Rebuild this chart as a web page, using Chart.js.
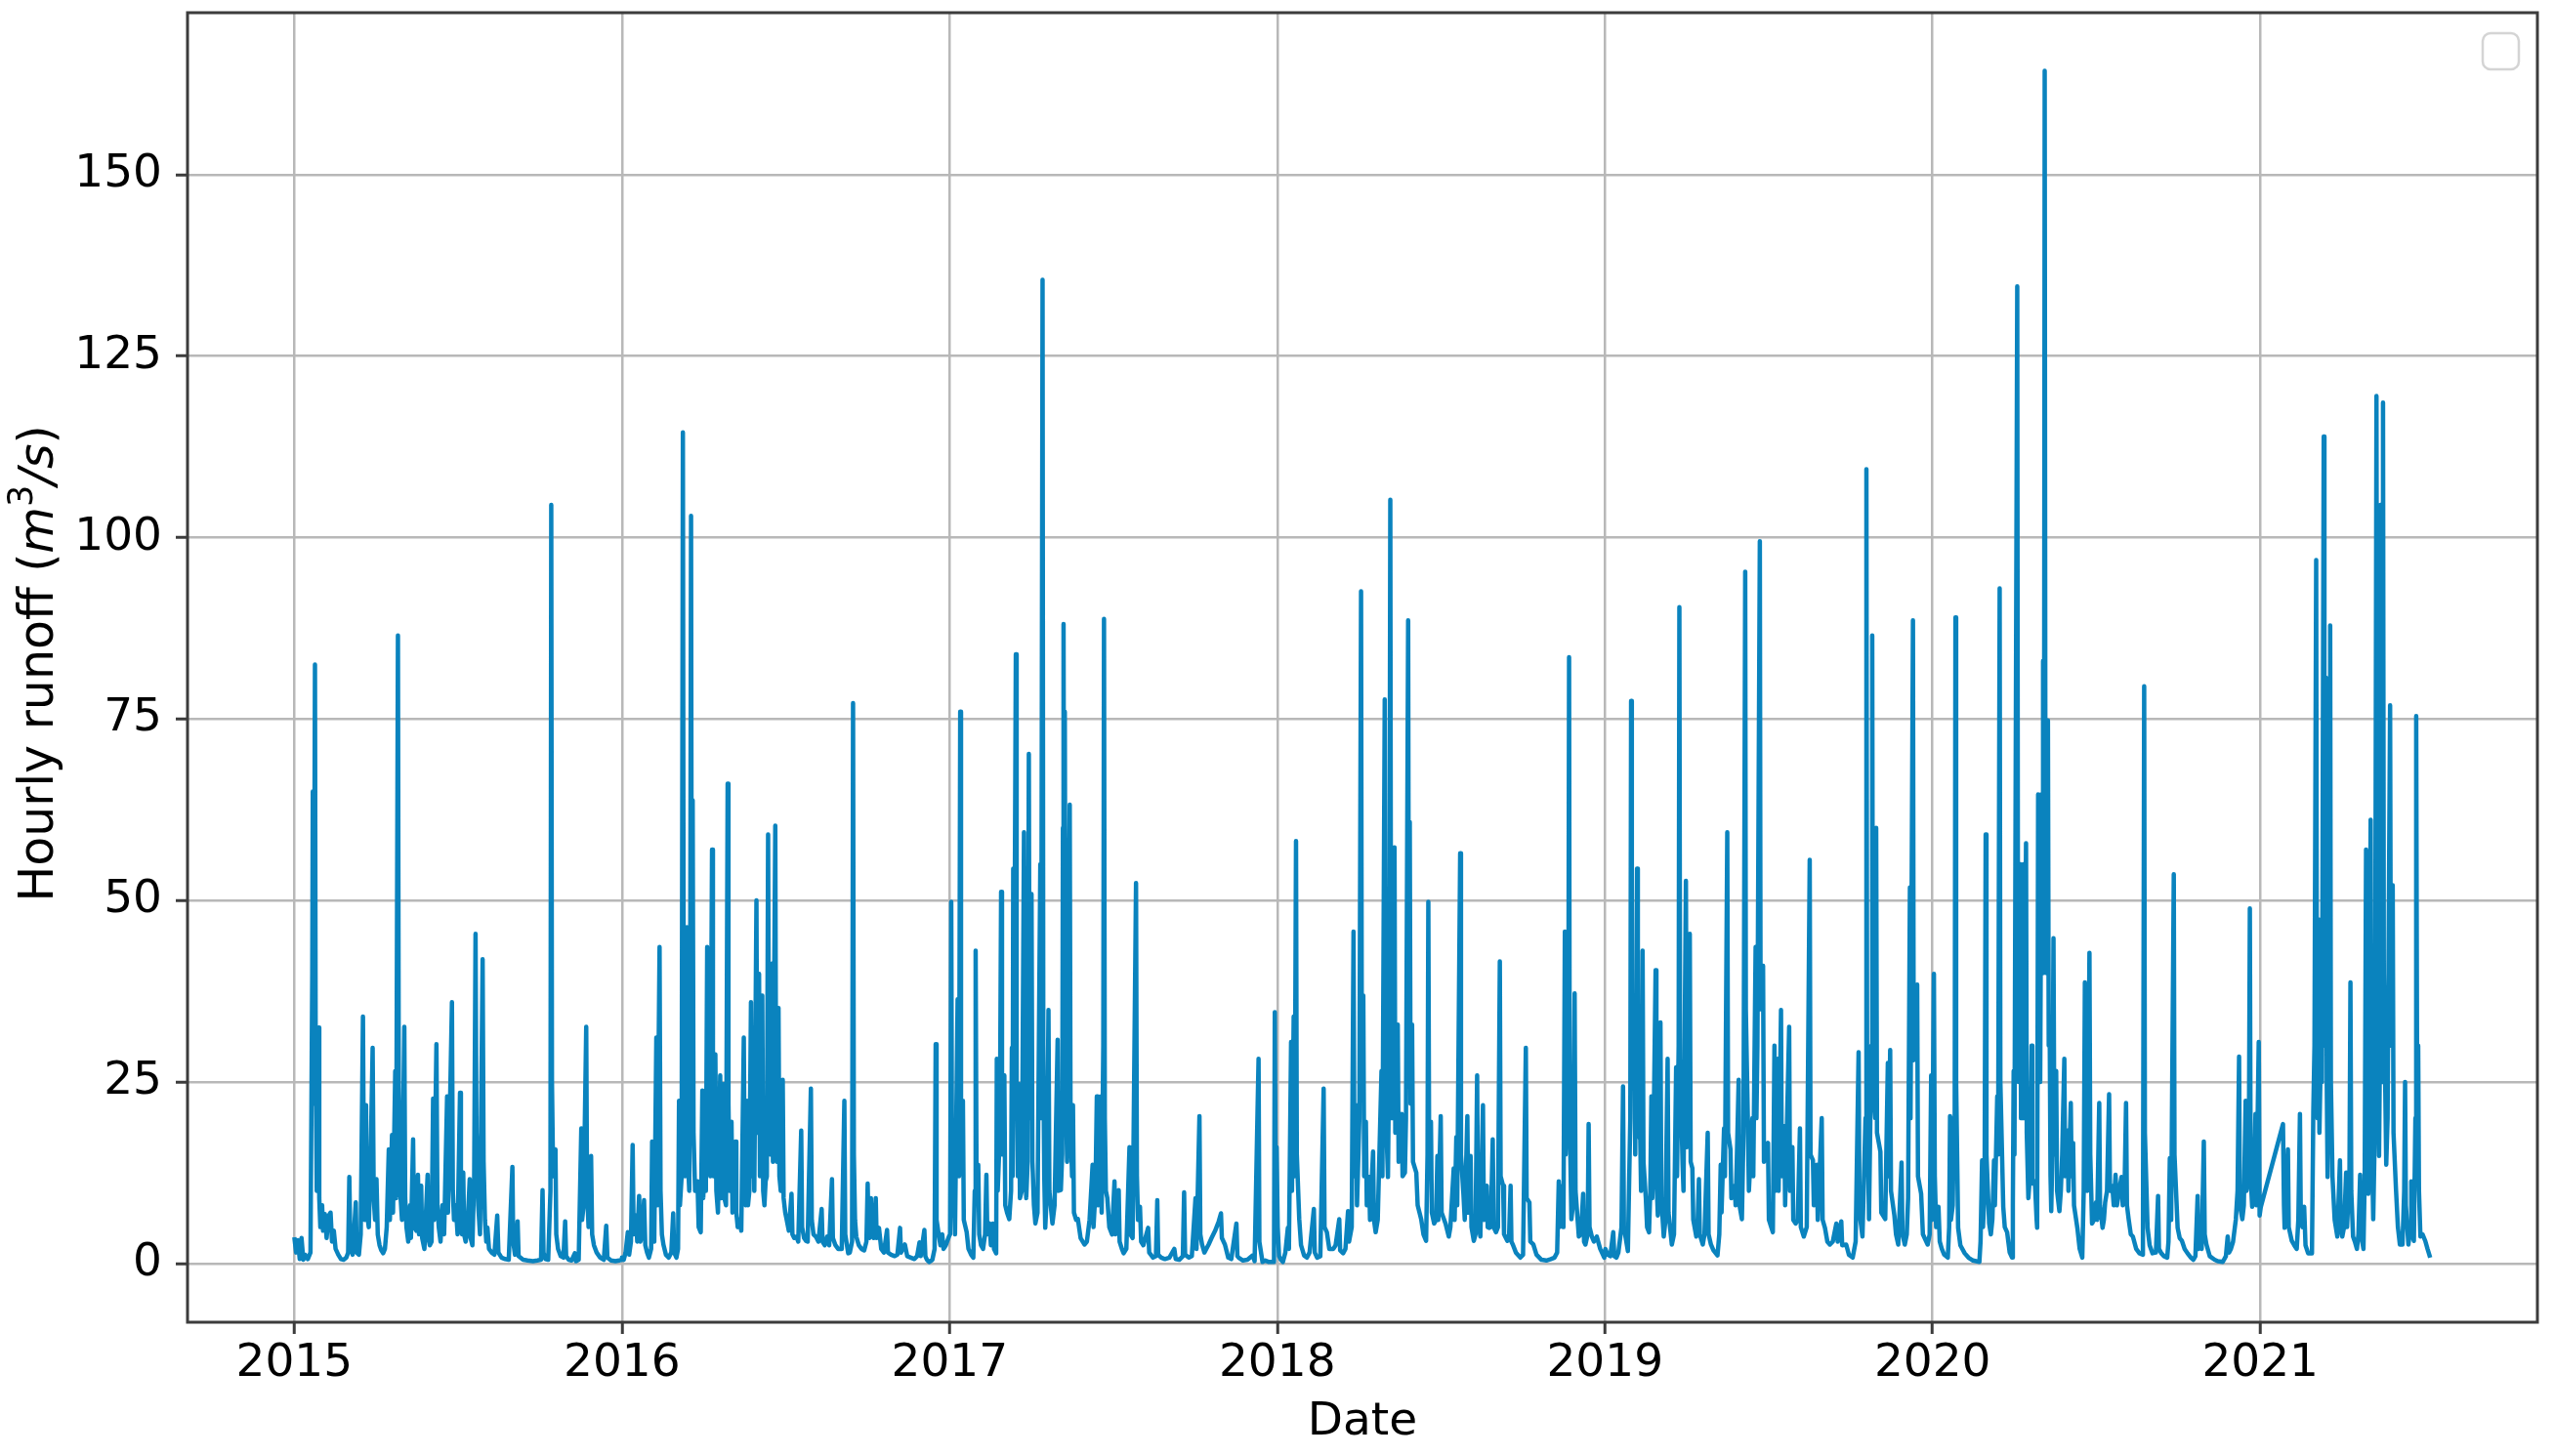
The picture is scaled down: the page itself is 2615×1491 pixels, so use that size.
<!DOCTYPE html>
<html>
<head>
<meta charset="utf-8">
<title>Hourly runoff</title>
<script src="https://cdn.jsdelivr.net/npm/chart.js@4.4.1/dist/chart.umd.min.js"></script>
<style>
  html, body { margin: 0; padding: 0; background: #fff; }
  canvas { display: block; }
</style>
</head>
<body>
<canvas id="runoff-chart" width="2615" height="1491"></canvas>
<script>
// hourly runoff (m3/s): [day of year, value]
const runoff2015 = [
  [0,3.6],[2,1.5],[4,3.2],[6,0.6],[8,3.5],[10,0.5],[12,1.2],[15,0.6],[18,1.5],
  [20,40],[20.6,65],[21.5,22],[23,82.5],[23.8,28],[25,10],[27,32.5],[27.8,9],[29,5],[31,8],[32,4.5],[34,6.8],[36,3.5],[38,6.5],[40.4,7],[42,3],[44,4.5],[46,2],[49,1.2],[52,0.6],[55,0.5],[58,0.8],[60,1.5],
  [61.3,11.9],[62.5,2.5],[65,1.2],[68.5,8.4],[69.5,1.5],[72,1.2],[74,4],[76.5,34],[77.5,12],[78.5,6],[80,21.8],[81,7],[83,5],[85,14],[87.3,29.7],[88.5,9],[90,6],[91.6,11.6],[93,4],[95,2.5],[97,1.8],[99,1.4],[101,2],[103,5],
  [105.3,15.7],[106.5,6],[108.9,17.7],[110,7],[112.5,26.5],[113.5,9],[115.5,86.5],[116.4,25],[118,10],[120,6],[122.6,32.6],[123.6,9],[125,5],[127,3],[129,8],[130,3.5],[132.4,17.1],[133.5,5],[136,4.5],[137.8,12.2],[139,4],[141.4,10.7],[142.5,3.5],[145,2],[148.6,12.2],[149.5,3.5],[151,2.5],[153,3],
  [154.7,22.7],[155.7,6],[158.4,30.2],[159.5,8],[161,5],[163,3],[165,8],[167,4],[170.3,23],[171.3,7],[175.7,36],[176.7,10],[178,6],[180,8],[182,4],[184.7,23.5],[185.7,6],[187,4],[188.3,12.5],[189.3,4],[191,3],[193,5],[195.5,11.6],[196.5,3.5],[198.5,2.5],
  [200.5,12],[202,45.4],[203,18],[205,8],[207,4],[209.9,41.9],[211,14],[212.5,6],[214,3],[215.3,4.9],[217,2],[220,1.5],[223,1.2],[226.2,6.6],[227.5,1.5],[231,0.8],[235,0.6],[239,0.5],
  [243.1,13.3],[244,3],[246,1.2],[248.9,5.8],[250,1],[255,0.5],[260,0.4],[266,0.3],[271,0.4],[275,0.5],
  [276.7,10.1],[277.8,1.5],[280,0.6],[283,0.5],[285.5,10],[286.4,104.5],[287.2,25],[288.5,12],[291.1,15.7],[292,4],[294,2],[297,1],[300,0.8],[301.9,5.8],[303,1],[306,0.5],[309,0.4],[312.7,1.4],[314,0.3],[317,0.5],
  [319.9,18.6],[320.8,6],[322.5,8],[325.4,32.6],[326.3,10],[328,5],[330.8,14.8],[332,4],[334,2.5],[337,1.5],[341,0.8],[345,0.5],[347.7,5.2],[349,0.8],[353,0.4],[358,0.3],[362,0.4],[365,0.5]
];
const runoff2016 = [
  [0,0.8],[2,0.5],[4,1.5],[6.5,4.3],[8,1.2],[10,3],[11.9,16.3],[13,4],[15.5,6.6],[17,3],[19.1,9.3],[20.5,3],[22.5,4],[24.6,8.7],[26,2.5],[28,1.5],[30,0.8],[32.5,2],
  [33.6,16.8],[34.6,4],[36,3],[38.3,31.1],[39.3,8],[41.9,43.6],[43,10],[44.5,4],[46.2,2.6],[49,1.2],[52,0.8],[55,1.5],[57.1,6.9],[58.2,1.5],[60.7,0.8],[62.5,2],
  [63.6,22.4],[64.6,8],[66.5,12],[67.9,114.5],[68.8,30],[70,12],[71.2,20],[72.3,46.3],[73.3,15],[75,10],[76,35],[77,103],[77.9,25],[78.8,63.8],[79.8,18],[81.5,10],[84.2,11.3],[85.5,5],[87.8,4.3],
  [89.6,23.8],[90.6,9],[92,14],[93.5,10],[95,43.6],[96,14],[97.5,30],[98.5,12],[100.4,57],[101.4,18],[102.5,12],[104.1,28.8],[105.2,10],[107,7],[109.5,25.9],[110.5,9],[111.8,15],[113.1,24.7],[114.2,9],[116,8],[117.8,66.1],[118.7,22],[120,10],[122.1,19.5],[123.2,7],[124.5,10],[126.5,16.8],[127.5,7],[129,5],[131.2,6.1],[133,4.5],
  [135.8,31.1],[136.8,10],[138,8],[139.5,22.4],[140.5,8],[142,10],[143.8,36],[144.8,12],[146.5,20],[147.5,10],[149.9,50],[150.8,18],[152.8,39.9],[153.8,12],[156.4,36.9],[157.4,10],[158.8,8],[160.1,11.3],[161.5,12],[162.9,59.1],[163.9,20],[165,15],[167.3,41.3],[168.3,14],[170.9,60.3],[171.8,22],[172.8,14],[174.5,35.2],[175.5,12],[177,10],[179.2,25.3],[180.2,9],[182,7],[183.5,6.1],[186,4.5],[189,9.6],[190,4],[192,3.5],[194.4,3.7],[196.5,3],
  [199.8,18.3],[200.8,5],[203,3.5],[205.2,3.1],[207,3],[210.6,24.1],[211.6,6],[213.5,4],[216.1,3.7],[219,3],[222.6,7.5],[223.6,3],[226,2.5],[228.7,3.7],[231,2.5],[234.1,11.6],[235.1,3.5],[238,2.5],[241,2],[245,2],[247.9,22.4],[248.9,4],[252.2,1.4],[254,1.5],[256.5,3],[257.6,77.2],[258.5,15],[259.8,6],[261.2,3.7],[264,2.5],[267,2],[270,1.8],[272.5,3],
  [273.9,11],[274.9,4],[276,3.5],[277.5,9],[278.5,4],[280.5,3.5],[282.9,9],[283.9,3.5],[286.5,4.9],[289,2],[292,1.5],[295.5,4.6],[296.5,1.5],[300,1.2],[304,1],[307,1.2],[310,4.9],[311,1.5],[315.4,2.6],[318,1],[322,0.8],[326,0.6],[329,1],[331.7,2.9],[333,1],[337.1,4.6],[338.2,1],[340,0.5],[342.5,0.2],[346,0.5],[348.5,2],
  [349.7,30.2],[350.7,6],[353.4,3.7],[355,2.5],[357,4],[358.5,2],[361,2.5],[364.5,3.7]
];
const runoff2017 = [
  [0.5,4],[1.8,49.8],[2.7,12],[4.5,10.7],[6,4],[8.9,36.4],[10.5,12],[11.8,76],[12.7,18],[14.8,22.4],[15.8,6],[19,4.3],[21,2],[24,1.2],[26.4,0.8],
  [28,10],[29,43.1],[30,12],[31.9,13.6],[33,4],[35,2.5],[37.3,2],[39.5,4],[41,12.2],[42,4],[44.6,5.5],[46,2.5],[48.3,5.5],[49.5,2],[51.9,1.4],
  [52.6,28.2],[53.6,10],[56,18],[57.4,51.2],[58.4,15],[61,25.9],[62,8],[64,7],[66.5,6.1],[68.5,10],[69.4,29.7],[70.2,12],[70.9,54.4],[71.6,20],[73.8,83.9],[74.7,25],[76,12],[77.4,24.7],[78.4,9],[80.5,10],[82.9,59.4],[83.9,18],[85.4,9],[87,14],[88.3,70.2],[89.2,22],[90.3,20],[91.3,50.9],[92.3,14],[94,8],[95.6,5.5],[98,7],
  [101.1,55],[102,20],[103.6,135.5],[104.4,30],[105.5,12],[106.6,4.9],[108.5,10],[110.2,34.9],[111.2,10],[114.6,5.5],[117,8],[120.4,30.8],[121.4,10],[124,10.1],[125.5,15],[126.3,60],[127,88.1],[127.8,30],[128.4,76],[129.3,25],[131,14],[133.9,63.2],[134.8,20],[136.5,12],[137.5,21.8],[138.6,7],[141,6],[143,6.1],[146,3.5],[150.3,2.6],[153,3],
  [156,6],[159.4,13.6],[160.4,5],[162.6,10],[164.1,23],[165.1,8],[168.5,23],[169.5,7],[171.3,30],[172.1,88.8],[173,20],[174.2,10],[175.8,9],[178,5],[181,4],[183.8,11.3],[184.8,4],[188.5,10.1],[189.5,3],[192,2],[194,1.4],[197,2],
  [200.5,16],[201.5,4],[204,3.5],[207.8,52.4],[208.8,12],[210,6],[212.2,7.8],[213.5,3],[216,2.5],[221.3,4.9],[222.5,1.5],[226.8,0.8],[230,1],[231.5,8.7],[232.5,1.2],[235.9,0.8],[240,0.6],[245,0.8],[250.5,2],[252,0.6],[256,0.5],[260,1],[261.4,9.8],[262.5,1.2],[266.9,0.8],[270,1],
  [274.1,9],[275.2,2],[278.5,20.3],[279.5,4],[281.4,2.6],[284,1.5],[288.7,2.6],[292,3.5],[296,4.5],[300,5.8],[302.5,6.9],[303.5,3.5],[306.9,2.6],[310.6,0.8],[314,0.6],[319.7,5.5],[320.8,1],[322.2,0.8],[327,0.4],[332,0.5],[337.9,1.1],[340,0.3],[344.4,28.2],[345.3,3],[348.8,0.2],[352,0.4],[356,0.2],[361.6,0.2],[362.5,34.6],[363.5,10],[364.5,16]
];
const runoff2018 = [
  [0.5,5],[2,1],[4,0.5],[6.3,0.2],[9,1.5],[11.8,4.9],[13,2],[15.4,30.5],[16.4,10],[18.3,34],[19.3,12],[20.9,58.2],[21.8,15],[24.5,6.1],[26.5,2.5],[29.9,1.1],[33,0.8],[36,1.5],
  [40.8,7.5],[41.8,1.5],[44.4,0.8],[48,1],[51.7,24.1],[52.7,5],[55.3,4.3],[58,2],[62.5,2],[65,2.5],[69.1,6.1],[70.1,1.8],[73.4,1.4],[76,2],
  [78.9,7.2],[80,3],[83,5],[85,45.7],[86,12],[87.9,21.8],[88.9,8],[91.5,20],[93.4,92.6],[94.3,25],[95.9,36.9],[96.9,12],[98.8,19.5],[99.8,8],[102.4,11.9],[103.4,6],[106.8,15.4],[107.8,6],[109.7,4.3],[112,6],
  [116.2,26.5],[117.2,12],[119.8,77.7],[120.7,22],[123.4,11.9],[124.8,30],[126,105.2],[126.8,35],[128.2,20],[130.7,57.3],[131.6,18],[134.3,32.9],[135.3,14],[138.7,20.6],[139.7,12],[142.3,12.5],[143.5,20],[145.9,88.6],[146.6,40],[147.7,60.8],[148.6,22],[150.3,32.9],[151.3,14],[155,12.5],[156.5,8],
  [160.4,6.1],[163,4],[165.9,3.1],[167.5,15],[168.4,49.8],[169.3,15],[171.3,19.5],[172.3,7],[174.9,5.5],[177,6],[178.5,14.8],[179.5,6],[182.2,20.3],[183.2,7],[187.6,5.5],[191.2,3.7],
  [193,5],[196.7,13.1],[197.7,6],[199.6,17.4],[200.6,8],[203.9,56.5],[204.8,15],[207.5,9.6],[209,6],[211.9,20.3],[212.9,7],[215.5,14.8],[216.5,5],[219.1,3.1],[221,4],[222.8,25.9],[223.8,6],[226.4,3.7],[229.3,21.8],[230.3,6],[233.6,10.7],[234.6,5],[236.5,4.9],[238,5],[240.2,17.1],[241.2,5],[243.8,4.3],[246,5],[248.1,41.6],[249,12],[251.8,10.7],[252.8,4],[256.5,3.1],[258.5,4],[260.1,10.7],[261,3],[262.6,2.6],[266,1.5],[271,0.8],[274,1.2],
  [277.1,29.7],[278,9],[281.1,8.4],[282.1,3],[285.5,2.6],[289,1.2],[294.5,0.5],[300,0.4],[305,0.6],[309,0.8],[312,1.5],
  [313.8,11.3],[314.8,5],[318.1,10.7],[319,5],[320.6,45.7],[321.5,15],[324.5,30],[325.3,83.5],[326,20],[327.9,6.1],[329.5,8],[331.5,37.2],[332.5,10],[336.2,3.7],[338.5,4],[341,9.6],[342,3],[343.5,2.6],[346,4],[347.1,19.2],[348.1,5],[350.7,3.7],[353,3],[356.2,3.7],[360,2],[364.5,0.8]
];
const runoff2019 = [
  [0.5,2],[3,1.2],[6,1],[9.3,4.3],[10.5,1],[12.9,0.8],[15,1.5],[18.5,5],[20.2,24.4],[21.2,5],[25.6,1.7],[28.3,20],[29.2,77.5],[30,25],[32.9,30.2],[33.8,15],[35.8,54.4],[36.7,18],[39.4,17.1],[40.3,10],[42,43.1],[43,14],[45.6,9],[47,5],[49.2,4.3],[50.6,10],[51.8,23],[52.8,9],[54.5,20],[56.5,40.4],[57.4,12],[59,6.6],[61.9,33.2],[62.9,9],[65.6,3.7],[67.5,6],[69.9,28.2],[70.9,7],[74.6,2.6],[77,4],
  [79.4,27],[80.4,12],[82.2,30],[83,90.4],[83.8,28],[86.6,13.6],[87.6,10],[90.3,52.7],[91.2,16],[93.8,20],[94.6,45.4],[95.6,14],[97.5,13.1],[98.5,6],[101.9,3.7],[103.2,5],[104.8,11.6],[105.8,4],[109.1,2.6],[111,4],[114.6,18],[115.6,4],[118.2,2.6],[121,1.8],[125.5,1.1],
  [127.5,4],[129.1,13.6],[130,7],[132.8,18.6],[133.8,12],[136.4,59.4],[137.3,18],[140,15.7],[141,9],[144.7,10.7],[145.7,8],[147,14],[149.1,25.3],[150.1,8],[152.7,6.1],[154.5,18],[156.4,95.3],[157.1,35],[159.3,20],[160.5,10],[162.5,15],[164.4,20],[165.4,12],[168,43.6],[168.9,20],[170,30],[172.7,99.5],[173.5,35],[176.3,41],[177.3,14],[181.8,16.6],[182.8,6],[187.2,4.3],
  [189,30],[189.8,10],[192.7,28.2],[193.6,10],[196.3,34.9],[197.2,12],[199.9,18.9],[200.9,8],[205.4,32.6],[206.3,10],[209,16],[210,6],[212.7,5.5],[215,6],[217.4,18.6],[218.4,5],[221.7,3.7],[225,5],[228.3,55.6],[229.2,15],[231.9,14.2],[232.9,8],[236.3,13.6],[237.3,6],[241.7,20],[242.7,6],[245.3,4.9],[248,3],[250.8,2.6],
  [254,3],[258,5.5],[259.5,3],[263.5,5.8],[264.5,2.5],[269,2.6],[272,1.2],[276.2,0.8],[279.5,3],[282.8,29.1],[283.8,7],[287.1,3.7],[290.5,20],[291.5,109.4],[292.3,25],[294.4,6.1],[297,30],[298,86.5],[298.8,25],[301.4,20],[302.4,60],[303.3,18],[307.1,15.4],[308.1,7],[312.5,6.1],[315.4,27.6],[316.2,12],[318,29.4],[318.9,10],[322.7,6.6],[324.5,4],[327,2.6],[330.7,13.9],[331.7,4],[334.3,2.6],[336.5,4],[338,9],[340,51.8],[340.7,20],[343.4,88.6],[344.2,28],[348.1,38.4],[349,12],[352.5,9.6],[354.5,4],[359.8,2.6],[362,4],[363.7,25.9],[364.5,6]
];
const runoff2020 = [
  [1.5,39.9],[2.5,12],[4,5],[6.6,7.8],[8,3],[10.3,2],[13,1.2],[17,0.8],[18.5,5],[19.5,20.3],[20.5,6],[22.5,8],[23.8,20],[24.6,12],[25.5,89],[26.3,25],[28.5,4.9],[31,2.5],[35.8,1.4],[40,0.8],[45,0.4],[52.2,0.2],
  [53.5,3],[55.2,14.2],[56.2,5],[58,10],[59.2,59.1],[60.1,15],[63.1,5.5],[65,4],[66.7,6.1],[68.5,14.2],[69.5,8],[72.1,23],[73.1,15],[74.8,93],[75.6,25],[78.8,7.8],[80.5,5],[83.1,4.3],[86,1.5],[88.6,0.8],
  [89.5,8],[90.4,26.5],[91.3,15],[94.4,134.6],[95.2,40],[96,25],[97.7,55],[98.6,20],[100,25],[101.3,55],[102.2,20],[104.2,57.9],[105,18],[106.8,9],[108.5,12],[110.4,30],[111.3,11],[114.1,11.3],[116,6],[116.6,4.9],[117.7,64.6],[118.6,30],[120,25],[121.4,64.6],[122.3,40],[123.2,83],[124.2,50],[125,164.3],[125.8,60],[127,40],[128.6,74.8],[129.5,30],[130.5,34],[131.5,12],[132.3,7.2],[133.5,15],[134.8,44.8],[135.8,15],[137.8,26.5],[138.8,10],[141.4,7.2],[143,10],[144.5,15],[146.9,28.2],[147.8,12],[150.5,18.3],[151.5,10],[154.1,22.1],[155,12],[156.7,16.6],[157.7,8],[161.4,4.9],[164,2],[166.9,0.8],
  [168.5,10],[169.8,38.7],[170.8,12],[172.5,10],[173.5,20],[174.9,42.8],[175.8,15],[177.8,5.5],[180,6],[182.2,8.4],[183.5,6],[185.8,22.1],[186.7,8],[189.5,4.9],[191,6],[192.4,8.4],[194.5,10],[196.8,23.3],[197.8,10],[200.4,10.7],[202,8],[204,12.2],[205.5,8],[208,10],[210.6,11.9],[212,8],[214,10],[215.7,22.1],[216.7,8],[218.6,6.1],[221,4],[223.3,3.7],[227,2],[230.6,1.4],[234.5,1.2],
  [235.9,79.5],[236.7,18],[239.7,4.9],[242,2.5],[245.2,1.4],[249,1.5],[251.4,9.3],[252.4,2],[255,1.4],[258,1],[261.6,0.8],[263,3],[264.5,14.5],[266,6],[268.9,53.6],[269.7,15],[273.2,4.9],[275.5,3.5],[278,3.1],[281,2],[284.2,1.4],[288,0.8],[290.7,0.5],[293,1],[295.5,9.3],[296.5,2],[298,2.6],[300,2],[302.4,16.8],[303.4,4],[305.3,2.6],[309,1],[314.4,0.5],[318,0.3],[323.5,0.2],[327,1],[329,3.7],[330.5,1.5],[332.6,2],[335,3],[338.1,6.1],[340,10],[341.7,28.5],[342.6,8],[345.3,6.1],[347,8],[349,22.4],[350,10],[352.5,12],[353.7,48.9],[354.6,12],[356.3,7.8],[358,10],[360,20.6],[361,8],[363.6,30.5],[364.6,6.6]
];
const runoff2021 = [
  [0.7,7.8],[25.4,19.2],[26.5,8],[27.2,4.9],[29,8],[30.9,15.7],[31.8,5],[35.2,3.1],[38,2.5],[40.7,2],[42.5,6],[44.3,20.6],[45.2,7],[47,5],[49,7.8],[50.5,2.5],[53.4,1.4],[57.7,1.4],
  [59.2,20.9],[60.5,30],[62.4,96.9],[63.2,30],[64,20],[65,47.4],[66,18],[67.9,31.1],[68.8,25],[70.8,113.9],[71.6,40],[72.5,30],[73.3,80.7],[74.2,25],[75.1,11.9],[76.5,40],[77.2,53],[78,87.9],[78.8,25],[80.6,11.9],[83,6],[86,3.7],[88.9,14.2],[89.8,5],[91.5,3.7],[93.5,5],[95.8,12.5],[96.8,5],[99.5,12],[100.6,38.7],[101.5,10],[103.5,3.7],[105.5,3],[107.8,2],[109.5,4],[111.4,12.2],[112.4,4],[115.1,2],
  [116.5,12],[118,57],[118.8,20],[120.5,9.6],[121.5,25],[123.1,61.1],[124,20],[126,6.1],[128,20],[129.6,119.5],[130.5,45],[132.5,14.8],[133.5,30],[134.2,104.5],[135,45.7],[136.1,25],[136.9,118.6],[137.8,40],[140.5,13.6],[142,20],[144.8,76.9],[145.7,30],[147.7,52.1],[148.6,18],[151.4,10.1],[153.5,5],[155.7,2.6],[158.6,2.6],[160.5,10],[161.5,25],[162.4,8],[165.2,2.6],[167.5,5],[168.4,11.3],[169.4,4],[171.3,3.1],[173,20],[173.9,75.4],[174.8,30],[176.1,30],[177,10],[178.6,3.7],[181,4],[184,3.1],[186.5,2],[189.5,0.8]
];

const seriesYears = [2015, 2016, 2017, 2018, 2019, 2020, 2021];
const yearTicks = [2015, 2016, 2017, 2018, 2019, 2020, 2021];
const runoffTicks = [0, 25, 50, 75, 100, 125, 150];

const FONT = 'DejaVu Sans';
const LINE_COLOR = '#0a83be';
const SPINE_COLOR = '#3c3c3c';
const GRID_COLOR = '#b8b8b8';

function buildPoints() {
  const byYear = [runoff2015, runoff2016, runoff2017, runoff2018, runoff2019, runoff2020, runoff2021];
  return byYear.flatMap((rows, i) =>
    rows.map(([day, q]) => ({ x: seriesYears[i] + day / 365.25, y: q })));
}

// spines on all four sides, drawn above the line like matplotlib does
const framePlugin = {
  id: 'frame',
  afterDatasetsDraw(chart) {
    const { ctx, chartArea: a } = chart;
    ctx.save();
    ctx.strokeStyle = SPINE_COLOR;
    ctx.lineWidth = 3;
    ctx.strokeRect(a.left, a.top, a.right - a.left, a.bottom - a.top);
    ctx.restore();
  }
};

// the source figure has an empty legend frame in the top right corner
const emptyLegendPlugin = {
  id: 'emptyLegend',
  afterDatasetsDraw(chart) {
    const { ctx, chartArea: a } = chart;
    ctx.save();
    ctx.beginPath();
    ctx.roundRect(a.right - 56, a.top + 21, 37, 37, 8);
    ctx.fillStyle = 'rgba(255,255,255,0.8)';
    ctx.fill();
    ctx.strokeStyle = '#d4d4d4';
    ctx.lineWidth = 2.5;
    ctx.stroke();
    ctx.restore();
  }
};

// y title with the italic m and superscript 3
const yTitlePlugin = {
  id: 'yTitle',
  afterDraw(chart) {
    const { ctx, chartArea: a } = chart;
    const parts = [
      { text: 'Hourly runoff (', style: '', size: 49, rise: 0 },
      { text: 'm', style: 'italic ', size: 49, rise: 0 },
      { text: '3', style: '', size: 35, rise: 21 },
      { text: '/s', style: 'italic ', size: 49, rise: 0 },
      { text: ')', style: '', size: 49, rise: 0 }
    ];
    ctx.save();
    let total = 0;
    parts.forEach(p => {
      ctx.font = `${p.style}${p.size}px "${FONT}"`;
      p.w = ctx.measureText(p.text).width;
      total += p.w;
    });
    ctx.translate(36, (a.top + a.bottom) / 2 - 4);
    ctx.rotate(-Math.PI / 2);
    ctx.fillStyle = '#000';
    ctx.textBaseline = 'alphabetic';
    ctx.textAlign = 'left';
    let x = -total / 2;
    parts.forEach(p => {
      ctx.font = `${p.style}${p.size}px "${FONT}"`;
      ctx.fillText(p.text, x, 18 - p.rise);
      x += p.w;
    });
    ctx.restore();
  }
};

function initRunoffChart() {
  const canvas = document.getElementById('runoff-chart');
  new Chart(canvas, {
    type: 'line',
    data: {
      datasets: [{
        data: buildPoints(),
        borderColor: LINE_COLOR,
        borderWidth: 4.5,
        borderJoinStyle: 'round',
        pointRadius: 0,
        fill: false,
        tension: 0,
      }],
    },
    options: {
      responsive: false,
      animation: false,
      devicePixelRatio: 1,
      layout: { padding: { top: 13, right: 17, left: 0, bottom: 0 } },
      plugins: { legend: { display: false }, tooltip: { enabled: false } },
      scales: {
        x: {
          type: 'linear',
          min: 2014.674,
          max: 2021.846,
          afterBuildTicks: axis => { axis.ticks = yearTicks.map(v => ({ value: v })); },
          afterFit: axis => {
            axis.height = 137;
            axis.paddingLeft = 0;
            axis.paddingRight = 0;
          },
          border: { display: false },
          grid: { color: GRID_COLOR, lineWidth: 2.5, tickColor: SPINE_COLOR, tickLength: 12, tickWidth: 3 },
          ticks: {
            color: '#000',
            font: { family: FONT, size: 47 },
            padding: 3,
            maxRotation: 0,
            autoSkip: false,
            callback: v => String(v),
          },
          title: {
            display: true,
            text: 'Date',
            color: '#000',
            font: { family: FONT, size: 47 },
            padding: { top: 0, bottom: 6 },
          },
        },
        y: {
          min: -8.1,
          max: 172.3,
          afterBuildTicks: axis => { axis.ticks = runoffTicks.map(v => ({ value: v })); },
          afterFit: axis => {
            axis.width = 192;
            axis.paddingTop = 0;
            axis.paddingBottom = 0;
          },
          border: { display: false },
          grid: { color: GRID_COLOR, lineWidth: 2.5, tickColor: SPINE_COLOR, tickLength: 12, tickWidth: 3 },
          ticks: {
            color: '#000',
            font: { family: FONT, size: 47 },
            padding: 14,
            autoSkip: false,
            callback: v => String(v),
          },
        },
      },
    },
    plugins: [framePlugin, emptyLegendPlugin, yTitlePlugin],
  });
}

document.addEventListener('DOMContentLoaded', initRunoffChart);
</script>
</body>
</html>
